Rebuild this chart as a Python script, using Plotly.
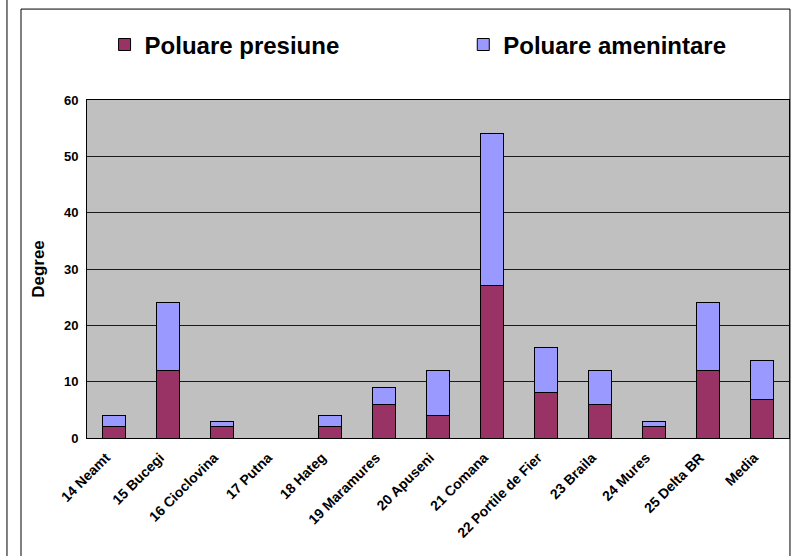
import plotly.graph_objects as go

# ariile protejate
categories = ["14 Neamt", "15 Bucegi", "16 Cioclovina", "17 Putna", "18 Hateg",
              "19 Maramures", "20 Apuseni", "21 Comana", "22 Portile de Fier",
              "23 Braila", "24 Mures", "25 Delta BR", "Media"]
presiune = [2, 12, 2, 0, 2, 6, 4, 27, 8, 6, 2, 12, 6.9]
amenintare = [2, 12, 1, 0, 2, 3, 8, 27, 8, 6, 1, 12, 6.8]

FONT = "Arial, Liberation Sans, sans-serif"

fig = go.Figure()
fig.add_bar(x=categories, y=presiune, name="Poluare presiune", legend="legend",
            marker=dict(color="#993366", line=dict(color="black", width=1)))
fig.add_bar(x=categories, y=amenintare, name="Poluare amenintare", legend="legend2",
            marker=dict(color="#9999FF", line=dict(color="black", width=1)))

# chenarul graficului + linia din stanga
fig.add_shape(type="rect", xref="paper", yref="paper",
              x0=-0.094, x1=1.0014, y0=-0.6, y1=1.269,
              line=dict(color="black", width=1), layer="below")
fig.add_shape(type="line", xref="paper", yref="paper",
              x0=-0.114, x1=-0.114, y0=-0.6, y1=1.4,
              line=dict(color="black", width=1))

leg = dict(orientation="h", yanchor="middle", y=1.163, xanchor="left",
           font=dict(size=24, weight="bold"), bgcolor="rgba(0,0,0,0)")

fig.update_layout(
    barmode="stack",
    bargap=0.59,
    width=791, height=556,
    margin=dict(l=87, r=2, t=100, b=118, autoexpand=False),
    paper_bgcolor="white",
    plot_bgcolor="#C0C0C0",
    font=dict(family=FONT, color="black"),
    showlegend=True,
    legend=dict(leg, x=0.025),
    legend2=dict(leg, x=0.536),
)
fig.update_xaxes(tickangle=-45, tickfont=dict(size=14, weight="bold"),
                 ticklabelshift=-8, ticklabelstandoff=5,
                 showline=True, linecolor="black", linewidth=1, mirror=True,
                 ticks="", showgrid=False, automargin=False)
fig.update_yaxes(range=[0, 60], dtick=10, tickfont=dict(size=13, weight="bold"),
                 ticklabelstandoff=5, automargin=False,
                 title=dict(text="Degree", font=dict(size=17, weight="bold"), standoff=14),
                 showline=True, linecolor="black", linewidth=1, mirror=True,
                 gridcolor="#1a1a1a", gridwidth=1, zeroline=False, ticks="")

# fara marginea implicita a paginii, ca figura sa umple fereastra
fig.write_html("out.html", config={"displayModeBar": False},
               post_script="document.body.style.margin='0';document.body.style.overflow='hidden';")
